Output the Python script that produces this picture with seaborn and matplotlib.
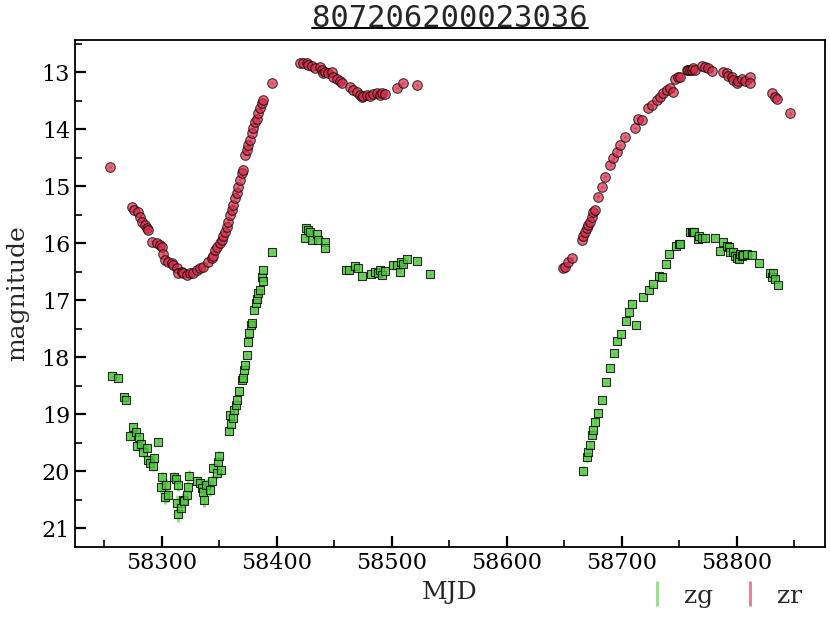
import matplotlib
matplotlib.use("Agg")
import matplotlib.pyplot as plt
import seaborn as sns
from matplotlib.lines import Line2D

# ---------------- data ----------------
zg_mjd = [58256.5, 58261.7, 58267.5, 58268.7, 58272.4, 58275.3, 58277.6, 58278.8, 58280.5, 58282.0,
          58284.0, 58286.9, 58288.4, 58289.8, 58292.1, 58293.6, 58297.1, 58299.1, 58300.0, 58302.9,
          58303.7, 58305.8, 58311.0, 58312.1, 58313.0, 58313.9, 58314.5, 58316.8, 58318.2, 58319.7,
          58321.7, 58323.2, 58324.0, 58330.4, 58333.3, 58334.7, 58336.2, 58337.1, 58338.5, 58342.0,
          58344.0, 58344.9, 58347.8, 58349.2, 58350.1, 58351.3, 58358.8, 58359.4, 58360.0, 58361.7,
          58362.9, 58364.3, 58365.2, 58367.5, 58369.5, 58370.4, 58371.3, 58372.4, 58373.9, 58375.3,
          58376.2, 58377.4, 58378.8, 58380.5, 58381.7, 58382.6, 58384.0, 58385.5, 58386.9, 58387.8,
          58388.4, 58395.6,
          58424.6, 58425.5, 58427.5, 58429.0, 58430.4, 58434.8, 58436.2, 58442.0, 58442.0, 58460.3,
          58462.9, 58468.1, 58471.0, 58473.9, 58481.7, 58485.5, 58488.4, 58489.8, 58491.3, 58494.2,
          58501.4, 58504.3, 58507.2, 58507.8, 58510.1, 58513.0, 58521.7, 58533.3,
          58666.6, 58669.5, 58671.0, 58672.4, 58673.9, 58675.3, 58676.8, 58679.7, 58682.6, 58686.3,
          58689.8, 58693.3, 58696.2, 58699.1, 58703.7, 58706.3, 58709.2, 58712.4, 58718.2, 58724.0,
          58727.5, 58732.7, 58735.3, 58738.5, 58741.4, 58747.2, 58750.1, 58750.7, 58759.4, 58760.8,
          58762.3, 58763.2, 58766.6, 58767.5, 58769.5, 58772.4, 58781.1, 58785.5, 58787.8, 58791.3,
          58793.6, 58794.2, 58797.1, 58798.5, 58800.0, 58802.3, 58802.9, 58804.3, 58805.8, 58808.7,
          58813.0, 58819.4, 58829.0, 58830.4, 58831.3, 58833.3, 58836.2]
zg_mag = [18.33, 18.36, 18.70, 18.75, 19.38, 19.22, 19.31, 19.56, 19.40, 19.52,
          19.67, 19.60, 19.80, 19.85, 19.91, 19.77, 19.49, 20.27, 20.11, 20.45,
          20.24, 20.42, 20.11, 20.14, 20.55, 20.75, 20.24, 20.65, 20.50, 20.53,
          20.42, 20.28, 20.08, 20.18, 20.20, 20.30, 20.36, 20.50, 20.24, 20.33,
          20.17, 19.95, 20.04, 19.83, 19.73, 19.97, 19.29, 19.01, 19.18, 19.07,
          18.92, 18.84, 18.75, 18.59, 18.40, 18.37, 18.22, 18.14, 17.96, 17.73,
          17.58, 17.43, 17.40, 17.17, 17.05, 16.97, 16.87, 16.82, 16.59, 16.67,
          16.47, 16.15,
          15.90, 15.74, 15.77, 15.80, 15.94, 15.84, 15.95, 15.98, 16.09, 16.47,
          16.47, 16.40, 16.44, 16.57, 16.54, 16.50, 16.53, 16.47, 16.56, 16.48,
          16.38, 16.38, 16.50, 16.32, 16.37, 16.28, 16.31, 16.54,
          19.99, 19.75, 19.66, 19.54, 19.36, 19.28, 19.13, 18.97, 18.75, 18.44,
          18.18, 17.93, 17.71, 17.60, 17.36, 17.20, 17.07, 17.43, 16.94, 16.82,
          16.72, 16.57, 16.60, 16.37, 16.19, 16.05, 16.02, 16.01, 15.81, 15.81,
          15.81, 15.81, 15.93, 15.88, 15.90, 15.90, 15.90, 16.13, 15.98, 16.05,
          16.07, 16.15, 16.15, 16.22, 16.26, 16.28, 16.18, 16.22, 16.21, 16.19,
          16.21, 16.35, 16.53, 16.60, 16.53, 16.63, 16.73]
zg_err = [0.04, 0.04, 0.05, 0.05, 0.06, 0.06, 0.06, 0.07, 0.06, 0.07,
          0.08, 0.07, 0.08, 0.09, 0.09, 0.08, 0.07, 0.12, 0.10, 0.13,
          0.11, 0.12, 0.10, 0.11, 0.13, 0.15, 0.11, 0.14, 0.12, 0.12,
          0.12, 0.11, 0.10, 0.10, 0.10, 0.11, 0.12, 0.13, 0.11, 0.11,
          0.10, 0.09, 0.10, 0.09, 0.08, 0.09, 0.06, 0.05, 0.06, 0.05,
          0.05, 0.05, 0.04, 0.04, 0.04, 0.04, 0.04, 0.03, 0.03, 0.03,
          0.03, 0.03, 0.03, 0.03, 0.03, 0.03, 0.03, 0.03, 0.02, 0.02,
          0.02, 0.02,
          0.02, 0.02, 0.02, 0.02, 0.02, 0.02, 0.02, 0.02, 0.02, 0.03,
          0.03, 0.03, 0.03, 0.03, 0.03, 0.03, 0.03, 0.03, 0.03, 0.03,
          0.03, 0.03, 0.03, 0.03, 0.03, 0.03, 0.03, 0.03,
          0.09, 0.08, 0.07, 0.06, 0.06, 0.05, 0.05, 0.04, 0.04, 0.03,
          0.03, 0.03, 0.03, 0.03, 0.03, 0.03, 0.03, 0.03, 0.02, 0.02,
          0.02, 0.02, 0.02, 0.02, 0.02, 0.02, 0.02, 0.02, 0.02, 0.02,
          0.02, 0.02, 0.02, 0.02, 0.02, 0.02, 0.02, 0.02, 0.02, 0.02,
          0.02, 0.02, 0.02, 0.02, 0.02, 0.02, 0.02, 0.02, 0.02, 0.02,
          0.02, 0.02, 0.02, 0.02, 0.02, 0.02, 0.02]

zr_mjd = [58255.0, 58273.9, 58276.2, 58279.7, 58281.1, 58282.6, 58285.5, 58286.9, 58288.4, 58291.3,
          58295.6, 58298.5, 58300.0, 58301.4, 58302.9, 58305.8, 58308.7, 58310.1, 58313.0, 58314.5,
          58317.4, 58318.8, 58321.7, 58324.6, 58327.5, 58330.4, 58333.3, 58336.2, 58340.5, 58343.4,
          58344.9, 58346.3, 58347.8, 58350.7, 58352.1, 58353.6, 58355.0, 58356.5, 58357.9, 58359.4,
          58360.8, 58362.3, 58363.7, 58365.2, 58366.6, 58368.1, 58369.5, 58371.0, 58372.4, 58373.9,
          58375.3, 58376.8, 58378.2, 58379.7, 58381.1, 58382.6, 58384.0, 58385.5, 58386.9, 58388.4,
          58395.6,
          58420.3, 58423.2, 58426.1, 58427.5, 58430.4, 58433.3, 58437.6, 58439.1, 58440.5, 58442.0,
          58444.9, 58447.8, 58449.2, 58452.1, 58455.0, 58456.5, 58463.7, 58466.6, 58469.5, 58472.4,
          58473.9, 58475.3, 58478.2, 58481.1, 58484.0, 58486.9, 58489.8, 58491.3, 58494.2, 58504.3,
          58510.1, 58521.7,
          58649.2, 58650.7, 58653.6, 58656.5, 58665.2, 58666.6, 58668.1, 58669.5, 58671.0, 58672.4,
          58673.9, 58675.3, 58676.8, 58679.7, 58682.6, 58685.5, 58689.8, 58692.7, 58695.6, 58698.5,
          58702.9, 58711.6, 58714.5, 58717.4, 58723.2, 58726.0, 58730.4, 58733.3, 58736.2, 58739.1,
          58742.0, 58744.9, 58746.3, 58749.2, 58750.7, 58756.5, 58757.9, 58759.4, 58760.8, 58762.3,
          58763.7, 58769.5, 58772.4, 58775.3, 58778.2, 58788.4, 58791.3, 58792.7, 58795.6, 58797.1,
          58800.0, 58801.4, 58804.3, 58807.2, 58811.6, 58811.6, 58830.4, 58833.3, 58834.8, 58846.4]
zr_mag = [14.66, 15.36, 15.42, 15.45, 15.53, 15.62, 15.68, 15.74, 15.77, 15.97,
          16.00, 16.03, 16.06, 16.18, 16.29, 16.32, 16.35, 16.38, 16.44, 16.53,
          16.50, 16.53, 16.56, 16.53, 16.52, 16.47, 16.44, 16.41, 16.32, 16.26,
          16.23, 16.12, 16.06, 16.00, 15.94, 15.88, 15.80, 15.71, 15.62, 15.50,
          15.42, 15.33, 15.21, 15.12, 15.01, 14.89, 14.77, 14.71, 14.45, 14.36,
          14.28, 14.19, 14.07, 13.98, 13.87, 13.81, 13.72, 13.63, 13.54, 13.49,
          13.19,
          12.84, 12.83, 12.84, 12.87, 12.89, 12.93, 12.91, 12.96, 13.02, 12.99,
          13.02, 12.99, 13.08, 13.12, 13.16, 13.19, 13.25, 13.31, 13.34, 13.40,
          13.43, 13.42, 13.40, 13.42, 13.38, 13.37, 13.40, 13.36, 13.38, 13.28,
          13.19, 13.22,
          16.44, 16.41, 16.32, 16.26, 15.94, 15.88, 15.80, 15.74, 15.68, 15.62,
          15.53, 15.45, 15.42, 15.18, 15.01, 14.83, 14.63, 14.51, 14.39, 14.28,
          14.13, 13.98, 13.81, 13.83, 13.63, 13.57, 13.49, 13.43, 13.37, 13.31,
          13.28, 13.34, 13.11, 13.08, 13.08, 12.95, 12.96, 12.95, 12.95, 12.93,
          12.95, 12.89, 12.90, 12.93, 12.97, 12.99, 13.02, 13.06, 13.09, 13.13,
          13.18, 13.16, 13.12, 13.15, 13.08, 13.18, 13.37, 13.43, 13.47, 13.72]
zr_err = 0.02

title_text = "807206200023036"
x_label = "MJD"
y_label = "magnitude"

# ---------------- style ----------------
sns.set_style("ticks")
plt.rcParams["font.family"] = ["DejaVu Serif"]
plt.rcParams["mathtext.fontset"] = "dejavuserif"

fig = plt.figure(figsize=(8.3, 6.23), dpi=100)
ax = fig.add_axes([0.0904, 0.122, 0.9036, 0.814])

green = "#4fc63c"
red = "#d42a47"

ax.errorbar(zg_mjd, zg_mag, yerr=zg_err, fmt="none", ecolor="#86dd72",
            elinewidth=2, alpha=0.9, label="zg", zorder=1)
ax.errorbar(zr_mjd, zr_mag, yerr=zr_err, fmt="none", ecolor="#e36d80",
            elinewidth=2, alpha=0.9, label="zr", zorder=1)

sns.scatterplot(x=zg_mjd, y=zg_mag, marker="s", s=26, color=green, alpha=0.8,
                edgecolor="black", linewidth=0.8, ax=ax, zorder=3, legend=False)
sns.scatterplot(x=zr_mjd, y=zr_mag, marker="o", s=48, color=red, alpha=0.7,
                edgecolor="black", linewidth=0.8, ax=ax, zorder=3, legend=False)

ax.set_xlim(58224.6, 58876.8)
ax.set_ylim(21.33, 12.43)
ax.set_xticks([58300, 58400, 58500, 58600, 58700, 58800])
ax.set_xticks([58250, 58350, 58450, 58550, 58650, 58750, 58850], minor=True)
ax.set_yticks([13, 14, 15, 16, 17, 18, 19, 20, 21])
ax.set_yticks([12.5, 13.5, 14.5, 15.5, 16.5, 17.5, 18.5, 19.5, 20.5], minor=True)
ax.tick_params(which="major", direction="in", length=8, width=1.6, labelsize=16,
               color="black", labelcolor="black")
ax.tick_params(which="minor", direction="in", length=5, width=1.2, color="black")
for sp in ax.spines.values():
    sp.set_color("black")
    sp.set_linewidth(1.3)

ax.set_xlabel(x_label, fontsize=18, labelpad=5)
ax.set_ylabel(y_label, fontsize=18, labelpad=9)

leg = ax.legend(loc="upper right", bbox_to_anchor=(0.999, -0.03), ncol=2,
                frameon=False, fontsize=18, handlelength=1.0, handletextpad=0.58,
                columnspacing=0.98)

title = ax.set_title(title_text, fontsize=22, family="DejaVu Sans Mono", pad=9)

fig.canvas.draw()
bb = title.get_window_extent(fig.canvas.get_renderer())
W, H = fig.bbox.width, fig.bbox.height
y_ul = (bb.y0 + 5) / H
fig.add_artist(Line2D([bb.x0 / W, bb.x1 / W], [y_ul, y_ul], color="black",
                      linewidth=1.4, transform=fig.transFigure))

fig.savefig("out.png", dpi=100)
